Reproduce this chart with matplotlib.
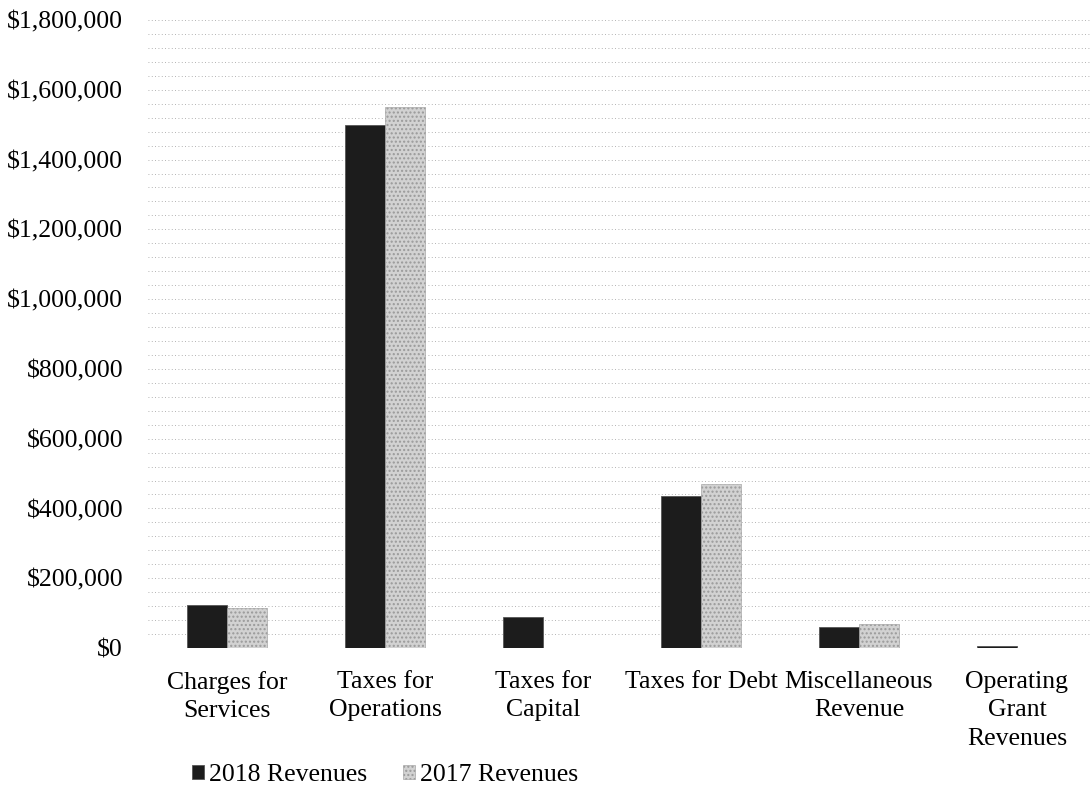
import numpy as np
import matplotlib.pyplot as plt
from matplotlib.ticker import FuncFormatter, MultipleLocator

categories = ['Charges for\nServices', 'Taxes for\nOperations', 'Taxes for\nCapital',
              'Taxes for Debt', 'Miscellaneous\nRevenue', 'Operating\nGrant\nRevenues']
rev_2018 = [123000, 1500000, 88000, 437000, 60000, 6000]
rev_2017 = [115000, 1551000, 0, 471000, 68000, 0]
series_names = ['2018 Revenues', '2017 Revenues']

plt.rcParams['font.family'] = ['Liberation Serif', 'DejaVu Serif']
plt.rcParams['hatch.color'] = '#8a8a8a'

fig = plt.figure(figsize=(10.91, 7.88), dpi=100)
ax = fig.add_axes([148 / 1091, 1 - 648 / 788, (1096 - 148) / 1091, (648 - 20) / 788])

x = np.arange(len(categories))
w = 0.253
ax.bar(x - w / 2, rev_2018, w, color='#1c1c1c', edgecolor='#555555', linewidth=0.6,
       label=series_names[0], zorder=3)
ax.bar(x + w / 2, rev_2017, w, color='#d2d2d2', edgecolor='#9a9a9a', linewidth=0.4,
       hatch='....', label=series_names[1], zorder=3)

ax.set_ylim(0, 1800000)
ax.set_xlim(-0.5, 5.5)
ax.yaxis.set_major_locator(MultipleLocator(200000))
ax.yaxis.set_minor_locator(MultipleLocator(40000))
ax.yaxis.set_major_formatter(FuncFormatter(lambda v, p: '${:,.0f}'.format(v)))
ax.grid(axis='y', which='both', linestyle=(0, (1, 3)), color='#9a9a9a', linewidth=0.6, zorder=0)

ax.set_xticks(x)
ax.set_xticklabels(categories, fontsize=18.5, linespacing=1.38)
ax.tick_params(axis='y', which='both', length=0, labelsize=18.5, pad=18)
ax.tick_params(axis='x', length=0, pad=16.5)
for s in ax.spines.values():
    s.set_visible(False)

fig.legend(loc='center', bbox_to_anchor=(385 / 1091, 1 - 775 / 788), ncol=2, frameon=False,
           fontsize=18.5, handlelength=0.45, handleheight=0.45, handletextpad=0.2,
           columnspacing=1.4, borderaxespad=0)

fig.savefig('out.png', dpi=100)
